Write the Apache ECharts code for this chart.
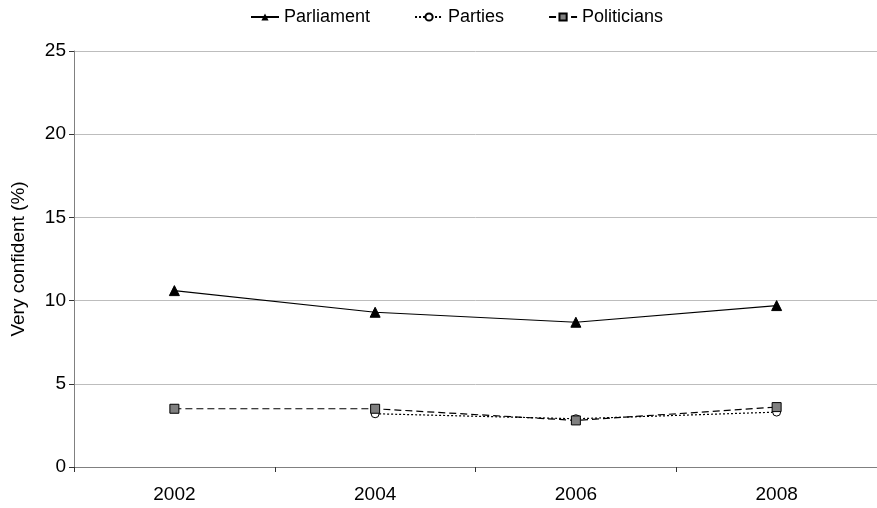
<!DOCTYPE html>
<html><head><meta charset="utf-8">
<script src="https://cdn.jsdelivr.net/npm/echarts@6/dist/echarts.min.js"></script>
<style>html,body{margin:0;padding:0;background:#fff}#c{width:877px;height:508px}</style>
</head><body><div id="c"></div>
<script>
var years = ['2002', '2004', '2006', '2008'];
var parliament = [10.6, 9.3, 8.7, 9.7];
var parties = [null, 3.2, 2.9, 3.3];
var politicians = [3.5, 3.5, 2.8, 3.6];
var yTicks = [0, 5, 10, 15, 20, 25];

var chart = echarts.init(document.getElementById('c'));
var font = 'Liberation Sans, Arial, sans-serif';
chart.setOption({
  animation: false,
  textStyle: {fontFamily: font},
  legend: {
    top: 3, left: 245, itemWidth: 28, itemHeight: 9, itemGap: 44,
    textStyle: {fontSize: 18, color: '#000', fontFamily: font},
    data: ['Parliament', 'Parties', 'Politicians']
  },
  grid: {left: 74, right: 0, top: 51, bottom: 41},
  xAxis: {
    type: 'category', data: years, boundaryGap: true,
    axisLine: {lineStyle: {color: '#808080', width: 1}},
    axisTick: {show: true, length: 5, lineStyle: {color: '#333'}},
    axisLabel: {fontSize: 19, color: '#000', margin: 18}
  },
  yAxis: {
    type: 'value', min: yTicks[0], max: yTicks[yTicks.length - 1], interval: 5,
    name: 'Very confident (%)', nameLocation: 'middle', nameGap: 46,
    nameTextStyle: {fontSize: 19, color: '#000'},
    axisLine: {show: true, lineStyle: {color: '#808080'}},
    axisTick: {show: true, length: 5, lineStyle: {color: '#333'}},
    axisLabel: {fontSize: 19, color: '#000', margin: 8},
    splitLine: {lineStyle: {color: '#bdbdbd', width: 1}}
  },
  series: [
    {name: 'Parliament', type: 'line', data: parliament, symbol: 'triangle', symbolSize: 10,
     lineStyle: {color: '#000', width: 1.2}, itemStyle: {color: '#000', borderColor: '#000'}},
    {name: 'Parties', type: 'line', data: parties, symbol: 'circle', symbolSize: 8, showAllSymbol: true,
     lineStyle: {color: '#000', width: 1.2, type: [2, 2]},
     itemStyle: {color: '#fff', borderColor: '#000', borderWidth: 1}},
    {name: 'Politicians', type: 'line', data: politicians, symbol: 'rect', symbolSize: 9,
     lineStyle: {color: '#000', width: 1.2, type: [7, 4]},
     itemStyle: {color: '#808080', borderColor: '#000', borderWidth: 1}}
  ]
});
</script></body></html>
